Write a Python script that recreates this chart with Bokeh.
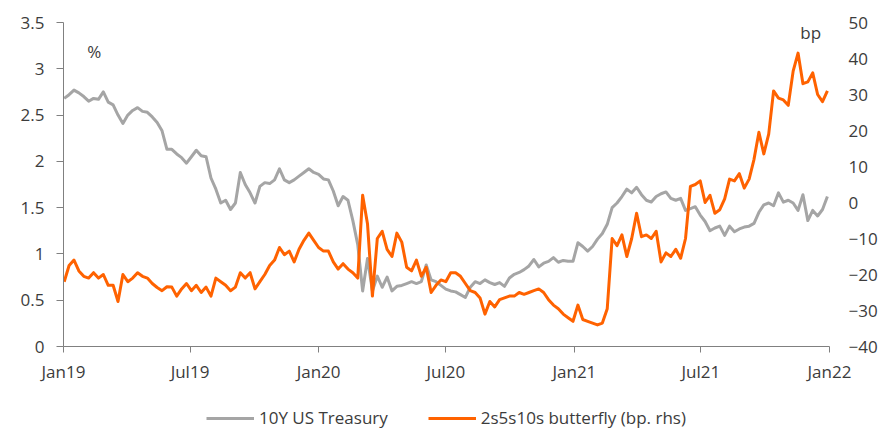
import pandas as pd
from bokeh.plotting import figure
from bokeh.layouts import column
from bokeh.models import (Range1d, LinearAxis, FixedTicker, NumeralTickFormatter,
                          DatetimeTickFormatter, Legend, LegendItem, Label, ColumnDataSource)
from bokeh.embed import file_html
from bokeh.resources import INLINE

# ---- data (weekly readings from the chart) ----
week_dates = pd.date_range("2019-01-02", periods=157, freq="7D")

ust10y = [
    2.68, 2.72, 2.77, 2.74, 2.70, 2.65, 2.68, 2.67, 2.75, 2.64,
    2.61, 2.50, 2.41, 2.50, 2.55, 2.58, 2.54, 2.53, 2.48, 2.42,
    2.33, 2.13, 2.13, 2.08, 2.04, 1.98, 2.05, 2.12, 2.06, 2.05,
    1.82, 1.70, 1.55, 1.58, 1.48, 1.55, 1.88, 1.75, 1.66, 1.55,
    1.73, 1.77, 1.76, 1.80, 1.92, 1.80, 1.77, 1.80, 1.84, 1.88,
    1.92, 1.88, 1.86, 1.81, 1.80, 1.68, 1.52, 1.62, 1.58, 1.36,
    1.10, 0.60, 0.95, 0.60, 0.76, 0.64, 0.75, 0.60, 0.65, 0.66,
    0.68, 0.70, 0.68, 0.70, 0.88, 0.72, 0.70, 0.66, 0.62, 0.60,
    0.59, 0.56, 0.53, 0.64, 0.70, 0.68, 0.72, 0.69, 0.67, 0.69,
    0.65, 0.74, 0.78, 0.80, 0.83, 0.87, 0.94, 0.86, 0.90, 0.92,
    0.96, 0.91, 0.93, 0.92, 0.92, 1.12, 1.08, 1.03, 1.08, 1.16,
    1.22, 1.32, 1.50, 1.55, 1.62, 1.70, 1.66, 1.72, 1.64, 1.58,
    1.56, 1.62, 1.65, 1.67, 1.60, 1.58, 1.60, 1.47, 1.49, 1.51,
    1.42, 1.35, 1.25, 1.28, 1.30, 1.20, 1.30, 1.24, 1.27, 1.29,
    1.30, 1.33, 1.45, 1.53, 1.55, 1.52, 1.66, 1.56, 1.58, 1.55,
    1.47, 1.64, 1.36, 1.47, 1.41, 1.48, 1.62,
]

butterfly = [
    -22.0, -17.5, -16.0, -19.0, -20.5, -21.0, -19.5, -21.0, -20.0, -23.0,
    -23.0, -27.5, -20.0, -22.0, -21.0, -19.5, -20.5, -21.0, -22.5, -23.6,
    -24.5, -23.4, -23.5, -26.0, -24.0, -22.5, -24.5, -23.0, -25.0, -23.5,
    -26.0, -21.0, -22.0, -23.0, -24.5, -23.5, -19.5, -21.0, -19.5, -24.0,
    -22.0, -20.0, -17.5, -16.0, -12.5, -14.5, -13.5, -16.5, -13.0, -10.5,
    -8.5, -10.5, -12.5, -13.5, -13.5, -16.5, -18.5, -17.0, -18.5, -19.5,
    -21.0, 2.0, -6.0, -26.0, -10.0, -8.0, -13.0, -15.0, -8.5, -11.0,
    -18.0, -19.0, -16.0, -20.5, -18.0, -25.0, -23.0, -21.5, -22.0, -19.5,
    -19.5, -20.5, -22.5, -24.5, -25.0, -26.5, -31.0, -27.5, -29.0, -27.0,
    -26.5, -26.0, -26.0, -25.0, -25.5, -25.0, -24.5, -24.0, -25.0, -27.0,
    -28.5, -29.5, -31.0, -32.0, -33.0, -28.5, -32.5, -33.0, -33.5, -34.0,
    -33.5, -29.5, -10.0, -12.0, -9.0, -15.0, -10.0, -3.0, -9.5, -9.0,
    -10.0, -8.0, -16.5, -14.0, -15.0, -13.0, -15.5, -10.0, 4.5, 5.0,
    6.0, 0.0, 2.0, -3.0, -2.0, 1.0, 6.5, 6.0, 8.0, 4.0,
    6.5, 12.0, 19.5, 13.5, 19.0, 31.0, 29.0, 28.5, 27.0, 36.5,
    41.5, 33.0, 33.5, 36.0, 30.0, 28.0, 31.0,
]

x_ticks = ["2019-01-01", "2019-07-01", "2020-01-01", "2020-07-01",
           "2021-01-01", "2021-07-01", "2022-01-01"]
left_ticks = [0, 0.5, 1, 1.5, 2, 2.5, 3, 3.5]
right_ticks = [-40, -30, -20, -10, 0, 10, 20, 30, 40, 50]
series_names = ["10Y US Treasury", "2s5s10s butterfly (bp. rhs)"]

GRAY = "#A5A5A5"
ORANGE = "#FF6200"
TXT = "#3C3C3C"
AXC = "#808080"
FONT = "Open Sans"
FS = "17px"
W = 880

def ms(s):
    return pd.Timestamp(s).value / 1e6

src = ColumnDataSource(dict(date=week_dates, ust=ust10y, fly=butterfly))
x_rng = Range1d(ms("2019-01-01"), ms("2022-01-01"))

p = figure(width=W, height=396, output_backend="svg", toolbar_location=None,
           x_axis_type="datetime", x_range=x_rng, y_range=Range1d(0, 3.5),
           min_border_left=63, min_border_right=50, min_border_top=22,
           min_border_bottom=50)
p.extra_y_ranges = {"bp": Range1d(-40, 50)}
p.outline_line_color = None
p.xgrid.visible = False
p.ygrid.visible = False

p.line("date", "ust", source=src, line_color=GRAY, line_width=3, line_join="round")
p.line("date", "fly", source=src, line_color=ORANGE, line_width=3, line_join="round",
       y_range_name="bp")

# x axis
xa = p.xaxis[0]
xa.ticker = FixedTicker(ticks=[ms(t) for t in x_ticks])
xa.formatter = DatetimeTickFormatter(days="%b%y", months="%b%y", years="%b%y")
xa.minor_tick_line_color = None
xa.axis_line_color = AXC
xa.major_tick_line_color = AXC
xa.major_tick_out = 6
xa.major_tick_in = 0
xa.major_label_standoff = 7
xa.major_label_text_font = FONT
xa.major_label_text_font_size = FS
xa.major_label_text_color = TXT

# left axis
ya = p.yaxis[0]
ya.ticker = FixedTicker(ticks=left_ticks)
ya.formatter = NumeralTickFormatter(format="0.[0]")
ya.minor_tick_line_color = None
ya.axis_line_color = AXC
ya.major_tick_line_color = AXC
ya.major_tick_out = 7
ya.major_tick_in = 0
ya.major_label_standoff = 12
ya.major_label_text_font = FONT
ya.major_label_text_font_size = FS
ya.major_label_text_color = TXT

# right axis
ra = LinearAxis(y_range_name="bp", ticker=FixedTicker(ticks=right_ticks))
ra.axis_line_color = None
ra.major_tick_line_color = None
ra.minor_tick_line_color = None
ra.major_tick_out = 0
ra.major_tick_in = 0
ra.major_label_standoff = 19
ra.major_label_text_font = FONT
ra.major_label_text_font_size = FS
ra.major_label_text_color = TXT
p.add_layout(ra, "right")

# unit labels
p.add_layout(Label(x=ms("2019-02-14"), y=3.19, text="%", text_align="center",
                   text_baseline="alphabetic", text_font=FONT, text_font_size=FS,
                   text_color=TXT))
p.add_layout(Label(x=ms("2021-12-05"), y=3.395, text="bp", text_align="center",
                   text_baseline="alphabetic", text_font=FONT, text_font_size=FS,
                   text_color=TXT))

# legend strip: a small figure whose y-range excludes the data, so only the
# legend swatches/labels of the two series are visible
lg = figure(width=W, height=45, output_backend="svg", toolbar_location=None,
            x_range=x_rng, y_range=Range1d(1000, 1001),
            x_axis_location=None, y_axis_location=None,
            min_border_left=0, min_border_right=0, min_border_top=0, min_border_bottom=0)
lg.outline_line_color = None
lg.xgrid.visible = False
lg.ygrid.visible = False
g1 = lg.line("date", "ust", source=src, line_color=GRAY, line_width=3)
g2 = lg.line("date", "fly", source=src, line_color=ORANGE, line_width=3)
legend = Legend(items=[LegendItem(label=series_names[0], renderers=[g1]),
                       LegendItem(label=series_names[1], renderers=[g2])],
                orientation="horizontal", location=(143, 12),
                glyph_width=48, glyph_height=20, label_standoff=5, spacing=40,
                label_text_font=FONT, label_text_font_size=FS, label_text_color=TXT,
                border_line_color=None, background_fill_alpha=0,
                margin=0, padding=6)
lg.add_layout(legend)

layout = column(p, lg, spacing=0)
open("out.html", "w").write(file_html(layout, INLINE))
